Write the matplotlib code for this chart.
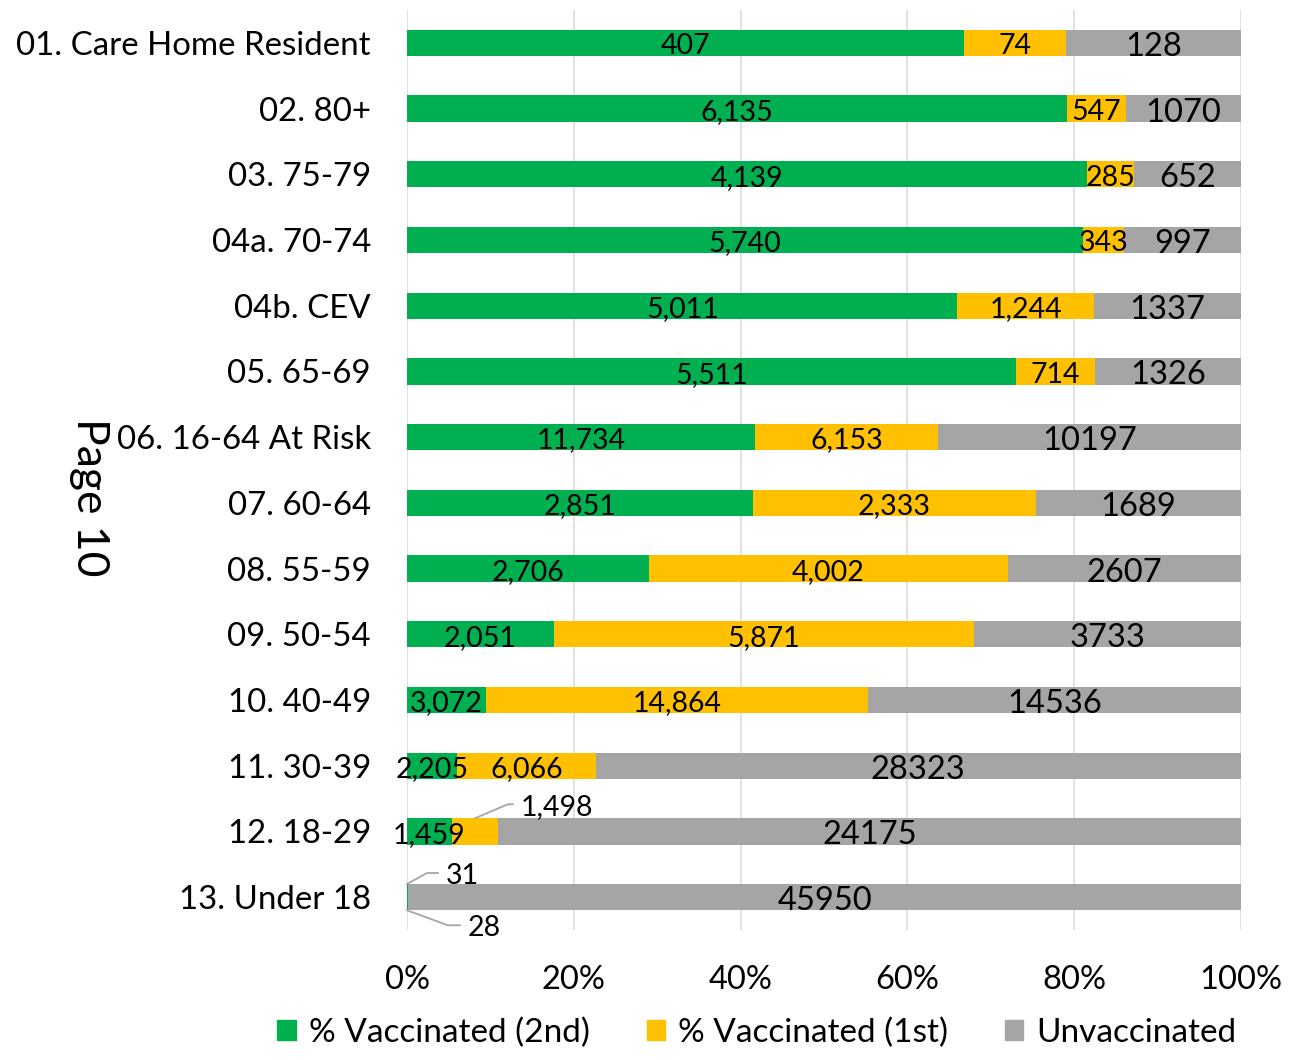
import matplotlib
matplotlib.use('Agg')
import matplotlib.pyplot as plt
from matplotlib.patches import Patch
from matplotlib.lines import Line2D
from matplotlib.transforms import IdentityTransform
import numpy as np

plt.rcParams['font.family'] = ['Lato', 'DejaVu Sans']

categories = ["01. Care Home Resident", "02. 80+", "03. 75-79", "04a. 70-74", "04b. CEV",
              "05. 65-69", "06. 16-64 At Risk", "07. 60-64", "08. 55-59", "09. 50-54",
              "10. 40-49", "11. 30-39", "12. 18-29", "13. Under 18"]
vacc_2nd = [407, 6135, 4139, 5740, 5011, 5511, 11734, 2851, 2706, 2051, 3072, 2205, 1459, 31]
vacc_1st = [74, 547, 285, 343, 1244, 714, 6153, 2333, 4002, 5871, 14864, 6066, 1498, 28]
unvacc = [128, 1070, 652, 997, 1337, 1326, 10197, 1689, 2607, 3733, 14536, 28323, 24175, 45950]
series_names = ["% Vaccinated (2nd)", "% Vaccinated (1st)", "Unvaccinated"]
xticks = [0, 20, 40, 60, 80, 100]

GREEN = '#00B050'
YELLOW = '#FFC000'
GREY = '#A5A5A5'

W, H = 1294, 1060
fig = plt.figure(figsize=(W / 100, H / 100), dpi=100)
ax = fig.add_axes([407 / W, 130 / H, 834 / W, 920 / H])

s = np.array(vacc_2nd, float)
f = np.array(vacc_1st, float)
u = np.array(unvacc, float)
tot = s + f + u
ps, pf, pu = s / tot * 100, f / tot * 100, u / tot * 100
y = np.arange(len(categories))
bh = 0.4

ax.barh(y, ps, height=bh, color=GREEN, zorder=2)
ax.barh(y, pf, left=ps, height=bh, color=YELLOW, zorder=2)
ax.barh(y, pu, left=ps + pf, height=bh, color=GREY, zorder=2)

ax.set_xlim(0, 100)
ax.set_ylim(len(categories) - 0.5, -0.5)
ax.set_xticks(xticks)
ax.set_xticklabels([f"{v}%" for v in xticks])
ax.set_yticks(y)
ax.set_yticklabels(categories)
ax.xaxis.grid(True, color='#D9D9D9', lw=1.1, zorder=0)
ax.set_axisbelow(True)
for sp in ax.spines.values():
    sp.set_visible(False)
ax.tick_params(axis='both', length=0)
ax.tick_params(axis='y', pad=26, labelsize=23.8)
ax.tick_params(axis='x', pad=25, labelsize=23.5)

IN_FS = 20.5
GR_FS = 23.5
n = len(categories)
for i in range(n):
    if i != n - 1:
        ax.text(ps[i] / 2, i + 0.05, f"{vacc_2nd[i]:,}", ha='center', va='center',
                fontsize=IN_FS, color='black', zorder=3)
    if i < n - 2:
        ax.text(ps[i] + pf[i] / 2, i + 0.05, f"{vacc_1st[i]:,}", ha='center', va='center',
                fontsize=IN_FS, color='black', zorder=3)
    ax.text(ps[i] + pf[i] + pu[i] / 2, i + 0.06, f"{unvacc[i]}", ha='center', va='center',
            fontsize=GR_FS, color='black', zorder=3)


def callout(anchor, verts, text_off, text):
    ax_disp = ax.transData.transform(anchor)
    xs = [ax_disp[0]] + [ax_disp[0] + dx for dx, dy in verts]
    ys = [ax_disp[1]] + [ax_disp[1] + dy for dx, dy in verts]
    fig.add_artist(Line2D(xs, ys, transform=IdentityTransform(), color='#A6A6A6', lw=1.3))
    fig.text((ax_disp[0] + text_off[0]) / W, (ax_disp[1] + text_off[1]) / H, text,
             ha='center', va='center', fontsize=IN_FS, color='black')


i12 = n - 2
callout((ps[i12] + pf[i12] / 2, i12 - bh / 2), [(33, 14), (38, 14)], (82, 11), f"{vacc_1st[i12]:,}")
i13 = n - 1
callout((0, i13 - bh / 2), [(20, 11), (31, 11)], (55, 8), f"{vacc_2nd[i13]:,}")
callout((0, i13 + bh / 2), [(41, -15), (53, -15)], (77, -18), f"{vacc_1st[i13]:,}")

fig.text(89 / W, 1 - 497 / H, "Page 10", rotation=-90, ha='center', va='center', fontsize=32)

handles = [Patch(color=c, label=l) for c, l in zip([GREEN, YELLOW, GREY], series_names)]
fig.legend(handles=handles, ncol=3, loc='center', bbox_to_anchor=(757 / W, 1 - 1033 / H),
           frameon=False, fontsize=24, handlelength=0.55, handleheight=0.55,
           handletextpad=0.4, columnspacing=1.7)

fig.savefig('out.png', dpi=100)
